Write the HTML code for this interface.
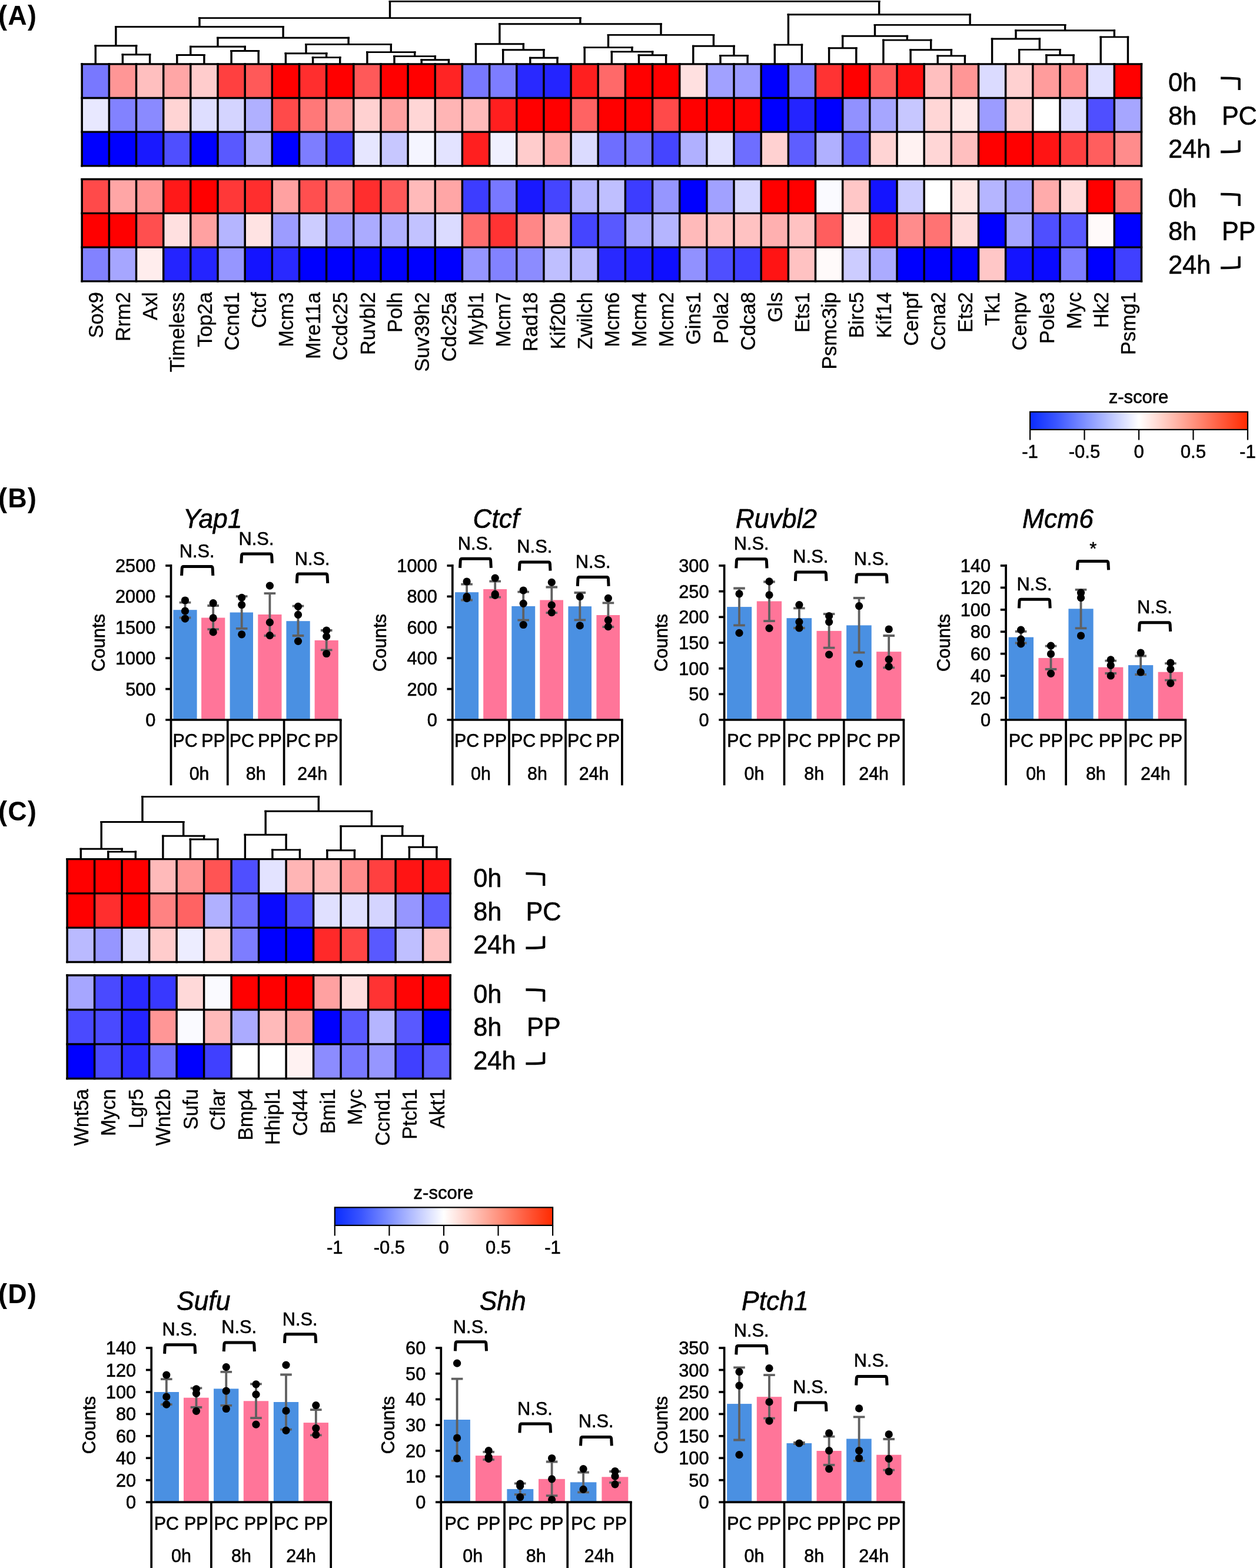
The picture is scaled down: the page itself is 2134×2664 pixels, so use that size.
<!DOCTYPE html>
<html lang="en"><head><meta charset="utf-8"><title>Figure</title>
<style>
html,body{margin:0;padding:0;background:#fff}
body{width:2134px;height:2664px;overflow:hidden}
svg{display:block;font-family:"Liberation Sans",Arial,Helvetica,sans-serif}
svg text{fill:#000;stroke:#000;stroke-width:.6px;stroke-linejoin:round}
svg .pl text{stroke-width:.15px}
svg .gl text{stroke-width:.35px}
</style></head>
<body>

<svg width="2134" height="2664" viewBox="0 0 2134 2664">

<rect width="2134" height="2664" fill="#fff"/>

<g class="pl" font-size="44.4" font-weight="bold" letter-spacing="1.4"><text transform="translate(-2.7 41.7) scale(1 1.06)">(A)</text><text transform="translate(-2.7 861.9) scale(1 1.06)">(B)</text><text transform="translate(-2.7 1393.6) scale(1 1.06)">(C)</text><text transform="translate(-2.7 2213.9) scale(1 1.06)">(D)</text></g>
<g shape-rendering="crispEdges"><rect x="139.2" y="108.8" width="46.7" height="58.2" fill="#7878ff"/><rect x="185.4" y="108.8" width="46.7" height="58.2" fill="#ff9696"/><rect x="231.5" y="108.8" width="46.7" height="58.2" fill="#ffbfbf"/><rect x="277.7" y="108.8" width="46.7" height="58.2" fill="#ffa6a6"/><rect x="323.8" y="108.8" width="46.7" height="58.2" fill="#ffcccc"/><rect x="370" y="108.8" width="46.7" height="58.2" fill="#ff4040"/><rect x="416.2" y="108.8" width="46.7" height="58.2" fill="#ff5959"/><rect x="462.3" y="108.8" width="46.7" height="58.2" fill="#ff0000"/><rect x="508.5" y="108.8" width="46.7" height="58.2" fill="#ff2e2e"/><rect x="554.6" y="108.8" width="46.7" height="58.2" fill="#ff0000"/><rect x="600.8" y="108.8" width="46.7" height="58.2" fill="#ff5959"/><rect x="647" y="108.8" width="46.7" height="58.2" fill="#ff0000"/><rect x="693.1" y="108.8" width="46.7" height="58.2" fill="#ff0000"/><rect x="739.3" y="108.8" width="46.7" height="58.2" fill="#ff2424"/><rect x="785.4" y="108.8" width="46.7" height="58.2" fill="#7878ff"/><rect x="831.6" y="108.8" width="46.7" height="58.2" fill="#7d7dff"/><rect x="877.8" y="108.8" width="46.7" height="58.2" fill="#2929ff"/><rect x="923.9" y="108.8" width="46.7" height="58.2" fill="#2424ff"/><rect x="970.1" y="108.8" width="46.7" height="58.2" fill="#ff1f1f"/><rect x="1016.2" y="108.8" width="46.7" height="58.2" fill="#ff6969"/><rect x="1062.4" y="108.8" width="46.7" height="58.2" fill="#ff0000"/><rect x="1108.6" y="108.8" width="46.7" height="58.2" fill="#ff0000"/><rect x="1154.7" y="108.8" width="46.7" height="58.2" fill="#ffe0e0"/><rect x="1200.9" y="108.8" width="46.7" height="58.2" fill="#a1a1ff"/><rect x="1247" y="108.8" width="46.7" height="58.2" fill="#9c9cff"/><rect x="1293.2" y="108.8" width="46.7" height="58.2" fill="#0000ff"/><rect x="1339.4" y="108.8" width="46.7" height="58.2" fill="#7d7dff"/><rect x="1385.5" y="108.8" width="46.7" height="58.2" fill="#ff3333"/><rect x="1431.7" y="108.8" width="46.7" height="58.2" fill="#ff0000"/><rect x="1477.8" y="108.8" width="46.7" height="58.2" fill="#ff5e5e"/><rect x="1524" y="108.8" width="46.7" height="58.2" fill="#ff0f0f"/><rect x="1570.2" y="108.8" width="46.7" height="58.2" fill="#ffbfbf"/><rect x="1616.3" y="108.8" width="46.7" height="58.2" fill="#ff9696"/><rect x="1662.5" y="108.8" width="46.7" height="58.2" fill="#dbdbff"/><rect x="1708.6" y="108.8" width="46.7" height="58.2" fill="#ffd1d1"/><rect x="1754.8" y="108.8" width="46.7" height="58.2" fill="#ff9c9c"/><rect x="1801" y="108.8" width="46.7" height="58.2" fill="#ff8c8c"/><rect x="1847.1" y="108.8" width="46.7" height="58.2" fill="#e0e0ff"/><rect x="1893.3" y="108.8" width="46.7" height="58.2" fill="#ff0000"/><rect x="139.2" y="166.5" width="46.7" height="58.2" fill="#e8e8ff"/><rect x="185.4" y="166.5" width="46.7" height="58.2" fill="#8282ff"/><rect x="231.5" y="166.5" width="46.7" height="58.2" fill="#8a8aff"/><rect x="277.7" y="166.5" width="46.7" height="58.2" fill="#ffd4d4"/><rect x="323.8" y="166.5" width="46.7" height="58.2" fill="#dedeff"/><rect x="370" y="166.5" width="46.7" height="58.2" fill="#d4d4ff"/><rect x="416.2" y="166.5" width="46.7" height="58.2" fill="#b0b0ff"/><rect x="462.3" y="166.5" width="46.7" height="58.2" fill="#ff4a4a"/><rect x="508.5" y="166.5" width="46.7" height="58.2" fill="#ff7878"/><rect x="554.6" y="166.5" width="46.7" height="58.2" fill="#ff9c9c"/><rect x="600.8" y="166.5" width="46.7" height="58.2" fill="#ffd1d1"/><rect x="647" y="166.5" width="46.7" height="58.2" fill="#ffa1a1"/><rect x="693.1" y="166.5" width="46.7" height="58.2" fill="#ffd6d6"/><rect x="739.3" y="166.5" width="46.7" height="58.2" fill="#ffb5b5"/><rect x="785.4" y="166.5" width="46.7" height="58.2" fill="#ffbaba"/><rect x="831.6" y="166.5" width="46.7" height="58.2" fill="#ff1f1f"/><rect x="877.8" y="166.5" width="46.7" height="58.2" fill="#ff0000"/><rect x="923.9" y="166.5" width="46.7" height="58.2" fill="#ff0000"/><rect x="970.1" y="166.5" width="46.7" height="58.2" fill="#ff6363"/><rect x="1016.2" y="166.5" width="46.7" height="58.2" fill="#ff0000"/><rect x="1062.4" y="166.5" width="46.7" height="58.2" fill="#ff0000"/><rect x="1108.6" y="166.5" width="46.7" height="58.2" fill="#ff4a4a"/><rect x="1154.7" y="166.5" width="46.7" height="58.2" fill="#ff0000"/><rect x="1200.9" y="166.5" width="46.7" height="58.2" fill="#ff0000"/><rect x="1247" y="166.5" width="46.7" height="58.2" fill="#ff0505"/><rect x="1293.2" y="166.5" width="46.7" height="58.2" fill="#0000ff"/><rect x="1339.4" y="166.5" width="46.7" height="58.2" fill="#2424ff"/><rect x="1385.5" y="166.5" width="46.7" height="58.2" fill="#0000ff"/><rect x="1431.7" y="166.5" width="46.7" height="58.2" fill="#9191ff"/><rect x="1477.8" y="166.5" width="46.7" height="58.2" fill="#a6a6ff"/><rect x="1524" y="166.5" width="46.7" height="58.2" fill="#c7c7ff"/><rect x="1570.2" y="166.5" width="46.7" height="58.2" fill="#ffd6d6"/><rect x="1616.3" y="166.5" width="46.7" height="58.2" fill="#ffe8e8"/><rect x="1662.5" y="166.5" width="46.7" height="58.2" fill="#9c9cff"/><rect x="1708.6" y="166.5" width="46.7" height="58.2" fill="#ffd1d1"/><rect x="1754.8" y="166.5" width="46.7" height="58.2" fill="#ffffff"/><rect x="1801" y="166.5" width="46.7" height="58.2" fill="#dedeff"/><rect x="1847.1" y="166.5" width="46.7" height="58.2" fill="#4f4fff"/><rect x="1893.3" y="166.5" width="46.7" height="58.2" fill="#a6a6ff"/><rect x="139.2" y="224.2" width="46.7" height="58.2" fill="#0000ff"/><rect x="185.4" y="224.2" width="46.7" height="58.2" fill="#0000ff"/><rect x="231.5" y="224.2" width="46.7" height="58.2" fill="#1919ff"/><rect x="277.7" y="224.2" width="46.7" height="58.2" fill="#4f4fff"/><rect x="323.8" y="224.2" width="46.7" height="58.2" fill="#0000ff"/><rect x="370" y="224.2" width="46.7" height="58.2" fill="#5959ff"/><rect x="416.2" y="224.2" width="46.7" height="58.2" fill="#ababff"/><rect x="462.3" y="224.2" width="46.7" height="58.2" fill="#0000ff"/><rect x="508.5" y="224.2" width="46.7" height="58.2" fill="#7d7dff"/><rect x="554.6" y="224.2" width="46.7" height="58.2" fill="#4545ff"/><rect x="600.8" y="224.2" width="46.7" height="58.2" fill="#e6e6ff"/><rect x="647" y="224.2" width="46.7" height="58.2" fill="#c7c7ff"/><rect x="693.1" y="224.2" width="46.7" height="58.2" fill="#f5f5ff"/><rect x="739.3" y="224.2" width="46.7" height="58.2" fill="#e3e3ff"/><rect x="785.4" y="224.2" width="46.7" height="58.2" fill="#ff1f1f"/><rect x="831.6" y="224.2" width="46.7" height="58.2" fill="#f0f0ff"/><rect x="877.8" y="224.2" width="46.7" height="58.2" fill="#ffcccc"/><rect x="923.9" y="224.2" width="46.7" height="58.2" fill="#ffabab"/><rect x="970.1" y="224.2" width="46.7" height="58.2" fill="#dbdbff"/><rect x="1016.2" y="224.2" width="46.7" height="58.2" fill="#6e6eff"/><rect x="1062.4" y="224.2" width="46.7" height="58.2" fill="#7373ff"/><rect x="1108.6" y="224.2" width="46.7" height="58.2" fill="#4545ff"/><rect x="1154.7" y="224.2" width="46.7" height="58.2" fill="#b0b0ff"/><rect x="1200.9" y="224.2" width="46.7" height="58.2" fill="#e0e0ff"/><rect x="1247" y="224.2" width="46.7" height="58.2" fill="#6e6eff"/><rect x="1293.2" y="224.2" width="46.7" height="58.2" fill="#ffd1d1"/><rect x="1339.4" y="224.2" width="46.7" height="58.2" fill="#5e5eff"/><rect x="1385.5" y="224.2" width="46.7" height="58.2" fill="#b0b0ff"/><rect x="1431.7" y="224.2" width="46.7" height="58.2" fill="#6363ff"/><rect x="1477.8" y="224.2" width="46.7" height="58.2" fill="#ffd4d4"/><rect x="1524" y="224.2" width="46.7" height="58.2" fill="#fff2f2"/><rect x="1570.2" y="224.2" width="46.7" height="58.2" fill="#ffd6d6"/><rect x="1616.3" y="224.2" width="46.7" height="58.2" fill="#ffbfbf"/><rect x="1662.5" y="224.2" width="46.7" height="58.2" fill="#ff0000"/><rect x="1708.6" y="224.2" width="46.7" height="58.2" fill="#ff0000"/><rect x="1754.8" y="224.2" width="46.7" height="58.2" fill="#ff1414"/><rect x="1801" y="224.2" width="46.7" height="58.2" fill="#ff4040"/><rect x="1847.1" y="224.2" width="46.7" height="58.2" fill="#ff5e5e"/><rect x="1893.3" y="224.2" width="46.7" height="58.2" fill="#ff8c8c"/></g><path fill="none" stroke="#000" stroke-width="3.5" d="M139.2 107.1V283.6M185.4 107.1V283.6M231.5 107.1V283.6M277.7 107.1V283.6M323.8 107.1V283.6M370 107.1V283.6M416.2 107.1V283.6M462.3 107.1V283.6M508.5 107.1V283.6M554.6 107.1V283.6M600.8 107.1V283.6M647 107.1V283.6M693.1 107.1V283.6M739.3 107.1V283.6M785.4 107.1V283.6M831.6 107.1V283.6M877.8 107.1V283.6M923.9 107.1V283.6M970.1 107.1V283.6M1016.2 107.1V283.6M1062.4 107.1V283.6M1108.6 107.1V283.6M1154.7 107.1V283.6M1200.9 107.1V283.6M1247 107.1V283.6M1293.2 107.1V283.6M1339.4 107.1V283.6M1385.5 107.1V283.6M1431.7 107.1V283.6M1477.8 107.1V283.6M1524 107.1V283.6M1570.2 107.1V283.6M1616.3 107.1V283.6M1662.5 107.1V283.6M1708.6 107.1V283.6M1754.8 107.1V283.6M1801 107.1V283.6M1847.1 107.1V283.6M1893.3 107.1V283.6M1939.4 107.1V283.6"/><path fill="none" stroke="#000" stroke-width="3.3" d="M137.4 108.8H1941.2M137.4 166.5H1941.2M137.4 224.2H1941.2M137.4 281.9H1941.2"/>
<g shape-rendering="crispEdges"><rect x="139.2" y="304.5" width="46.7" height="58.3" fill="#ff4a4a"/><rect x="185.4" y="304.5" width="46.7" height="58.3" fill="#ffa6a6"/><rect x="231.5" y="304.5" width="46.7" height="58.3" fill="#ff9696"/><rect x="277.7" y="304.5" width="46.7" height="58.3" fill="#ff1919"/><rect x="323.8" y="304.5" width="46.7" height="58.3" fill="#ff0000"/><rect x="370" y="304.5" width="46.7" height="58.3" fill="#ff3838"/><rect x="416.2" y="304.5" width="46.7" height="58.3" fill="#ff2e2e"/><rect x="462.3" y="304.5" width="46.7" height="58.3" fill="#ffa1a1"/><rect x="508.5" y="304.5" width="46.7" height="58.3" fill="#ff4f4f"/><rect x="554.6" y="304.5" width="46.7" height="58.3" fill="#ff7373"/><rect x="600.8" y="304.5" width="46.7" height="58.3" fill="#ff2e2e"/><rect x="647" y="304.5" width="46.7" height="58.3" fill="#ff5959"/><rect x="693.1" y="304.5" width="46.7" height="58.3" fill="#ffbaba"/><rect x="739.3" y="304.5" width="46.7" height="58.3" fill="#ffa6a6"/><rect x="785.4" y="304.5" width="46.7" height="58.3" fill="#3d3dff"/><rect x="831.6" y="304.5" width="46.7" height="58.3" fill="#7878ff"/><rect x="877.8" y="304.5" width="46.7" height="58.3" fill="#1919ff"/><rect x="923.9" y="304.5" width="46.7" height="58.3" fill="#4545ff"/><rect x="970.1" y="304.5" width="46.7" height="58.3" fill="#b5b5ff"/><rect x="1016.2" y="304.5" width="46.7" height="58.3" fill="#bfbfff"/><rect x="1062.4" y="304.5" width="46.7" height="58.3" fill="#3d3dff"/><rect x="1108.6" y="304.5" width="46.7" height="58.3" fill="#9696ff"/><rect x="1154.7" y="304.5" width="46.7" height="58.3" fill="#0000ff"/><rect x="1200.9" y="304.5" width="46.7" height="58.3" fill="#a1a1ff"/><rect x="1247" y="304.5" width="46.7" height="58.3" fill="#d6d6ff"/><rect x="1293.2" y="304.5" width="46.7" height="58.3" fill="#ff0000"/><rect x="1339.4" y="304.5" width="46.7" height="58.3" fill="#ff0000"/><rect x="1385.5" y="304.5" width="46.7" height="58.3" fill="#fafaff"/><rect x="1431.7" y="304.5" width="46.7" height="58.3" fill="#ffc7c7"/><rect x="1477.8" y="304.5" width="46.7" height="58.3" fill="#1414ff"/><rect x="1524" y="304.5" width="46.7" height="58.3" fill="#ccccff"/><rect x="1570.2" y="304.5" width="46.7" height="58.3" fill="#ffffff"/><rect x="1616.3" y="304.5" width="46.7" height="58.3" fill="#ffe6e6"/><rect x="1662.5" y="304.5" width="46.7" height="58.3" fill="#b5b5ff"/><rect x="1708.6" y="304.5" width="46.7" height="58.3" fill="#a1a1ff"/><rect x="1754.8" y="304.5" width="46.7" height="58.3" fill="#ffabab"/><rect x="1801" y="304.5" width="46.7" height="58.3" fill="#ffdbdb"/><rect x="1847.1" y="304.5" width="46.7" height="58.3" fill="#ff0000"/><rect x="1893.3" y="304.5" width="46.7" height="58.3" fill="#ff7878"/><rect x="139.2" y="362.3" width="46.7" height="58.3" fill="#ff0000"/><rect x="185.4" y="362.3" width="46.7" height="58.3" fill="#ff0000"/><rect x="231.5" y="362.3" width="46.7" height="58.3" fill="#ff4f4f"/><rect x="277.7" y="362.3" width="46.7" height="58.3" fill="#ffe0e0"/><rect x="323.8" y="362.3" width="46.7" height="58.3" fill="#ffa1a1"/><rect x="370" y="362.3" width="46.7" height="58.3" fill="#b5b5ff"/><rect x="416.2" y="362.3" width="46.7" height="58.3" fill="#ffe3e3"/><rect x="462.3" y="362.3" width="46.7" height="58.3" fill="#9c9cff"/><rect x="508.5" y="362.3" width="46.7" height="58.3" fill="#ccccff"/><rect x="554.6" y="362.3" width="46.7" height="58.3" fill="#a1a1ff"/><rect x="600.8" y="362.3" width="46.7" height="58.3" fill="#ababff"/><rect x="647" y="362.3" width="46.7" height="58.3" fill="#b0b0ff"/><rect x="693.1" y="362.3" width="46.7" height="58.3" fill="#c2c2ff"/><rect x="739.3" y="362.3" width="46.7" height="58.3" fill="#dbdbff"/><rect x="785.4" y="362.3" width="46.7" height="58.3" fill="#ff6e6e"/><rect x="831.6" y="362.3" width="46.7" height="58.3" fill="#ff3333"/><rect x="877.8" y="362.3" width="46.7" height="58.3" fill="#ff8787"/><rect x="923.9" y="362.3" width="46.7" height="58.3" fill="#ffb5b5"/><rect x="970.1" y="362.3" width="46.7" height="58.3" fill="#4545ff"/><rect x="1016.2" y="362.3" width="46.7" height="58.3" fill="#5959ff"/><rect x="1062.4" y="362.3" width="46.7" height="58.3" fill="#a6a6ff"/><rect x="1108.6" y="362.3" width="46.7" height="58.3" fill="#b5b5ff"/><rect x="1154.7" y="362.3" width="46.7" height="58.3" fill="#ffbaba"/><rect x="1200.9" y="362.3" width="46.7" height="58.3" fill="#ffc2c2"/><rect x="1247" y="362.3" width="46.7" height="58.3" fill="#ffc2c2"/><rect x="1293.2" y="362.3" width="46.7" height="58.3" fill="#ffb0b0"/><rect x="1339.4" y="362.3" width="46.7" height="58.3" fill="#ffc2c2"/><rect x="1385.5" y="362.3" width="46.7" height="58.3" fill="#ff5e5e"/><rect x="1431.7" y="362.3" width="46.7" height="58.3" fill="#fff2f2"/><rect x="1477.8" y="362.3" width="46.7" height="58.3" fill="#ff3333"/><rect x="1524" y="362.3" width="46.7" height="58.3" fill="#ff8c8c"/><rect x="1570.2" y="362.3" width="46.7" height="58.3" fill="#ff7373"/><rect x="1616.3" y="362.3" width="46.7" height="58.3" fill="#ffdbdb"/><rect x="1662.5" y="362.3" width="46.7" height="58.3" fill="#0000ff"/><rect x="1708.6" y="362.3" width="46.7" height="58.3" fill="#a6a6ff"/><rect x="1754.8" y="362.3" width="46.7" height="58.3" fill="#4f4fff"/><rect x="1801" y="362.3" width="46.7" height="58.3" fill="#5959ff"/><rect x="1847.1" y="362.3" width="46.7" height="58.3" fill="#fffafa"/><rect x="1893.3" y="362.3" width="46.7" height="58.3" fill="#0000ff"/><rect x="139.2" y="420.1" width="46.7" height="58.3" fill="#8282ff"/><rect x="185.4" y="420.1" width="46.7" height="58.3" fill="#a6a6ff"/><rect x="231.5" y="420.1" width="46.7" height="58.3" fill="#ffeded"/><rect x="277.7" y="420.1" width="46.7" height="58.3" fill="#2424ff"/><rect x="323.8" y="420.1" width="46.7" height="58.3" fill="#2424ff"/><rect x="370" y="420.1" width="46.7" height="58.3" fill="#9696ff"/><rect x="416.2" y="420.1" width="46.7" height="58.3" fill="#1414ff"/><rect x="462.3" y="420.1" width="46.7" height="58.3" fill="#2929ff"/><rect x="508.5" y="420.1" width="46.7" height="58.3" fill="#0000ff"/><rect x="554.6" y="420.1" width="46.7" height="58.3" fill="#0000ff"/><rect x="600.8" y="420.1" width="46.7" height="58.3" fill="#0505ff"/><rect x="647" y="420.1" width="46.7" height="58.3" fill="#0000ff"/><rect x="693.1" y="420.1" width="46.7" height="58.3" fill="#0000ff"/><rect x="739.3" y="420.1" width="46.7" height="58.3" fill="#0000ff"/><rect x="785.4" y="420.1" width="46.7" height="58.3" fill="#9696ff"/><rect x="831.6" y="420.1" width="46.7" height="58.3" fill="#8282ff"/><rect x="877.8" y="420.1" width="46.7" height="58.3" fill="#8c8cff"/><rect x="923.9" y="420.1" width="46.7" height="58.3" fill="#bfbfff"/><rect x="970.1" y="420.1" width="46.7" height="58.3" fill="#babaff"/><rect x="1016.2" y="420.1" width="46.7" height="58.3" fill="#2929ff"/><rect x="1062.4" y="420.1" width="46.7" height="58.3" fill="#1f1fff"/><rect x="1108.6" y="420.1" width="46.7" height="58.3" fill="#0f0fff"/><rect x="1154.7" y="420.1" width="46.7" height="58.3" fill="#9191ff"/><rect x="1200.9" y="420.1" width="46.7" height="58.3" fill="#4f4fff"/><rect x="1247" y="420.1" width="46.7" height="58.3" fill="#4040ff"/><rect x="1293.2" y="420.1" width="46.7" height="58.3" fill="#ff1414"/><rect x="1339.4" y="420.1" width="46.7" height="58.3" fill="#ffc2c2"/><rect x="1385.5" y="420.1" width="46.7" height="58.3" fill="#fffafa"/><rect x="1431.7" y="420.1" width="46.7" height="58.3" fill="#ccccff"/><rect x="1477.8" y="420.1" width="46.7" height="58.3" fill="#ababff"/><rect x="1524" y="420.1" width="46.7" height="58.3" fill="#0000ff"/><rect x="1570.2" y="420.1" width="46.7" height="58.3" fill="#0000ff"/><rect x="1616.3" y="420.1" width="46.7" height="58.3" fill="#0000ff"/><rect x="1662.5" y="420.1" width="46.7" height="58.3" fill="#ffc7c7"/><rect x="1708.6" y="420.1" width="46.7" height="58.3" fill="#1414ff"/><rect x="1754.8" y="420.1" width="46.7" height="58.3" fill="#0a0aff"/><rect x="1801" y="420.1" width="46.7" height="58.3" fill="#7d7dff"/><rect x="1847.1" y="420.1" width="46.7" height="58.3" fill="#0000ff"/><rect x="1893.3" y="420.1" width="46.7" height="58.3" fill="#4040ff"/></g><path fill="none" stroke="#000" stroke-width="3.5" d="M139.2 302.9V479.5M185.4 302.9V479.5M231.5 302.9V479.5M277.7 302.9V479.5M323.8 302.9V479.5M370 302.9V479.5M416.2 302.9V479.5M462.3 302.9V479.5M508.5 302.9V479.5M554.6 302.9V479.5M600.8 302.9V479.5M647 302.9V479.5M693.1 302.9V479.5M739.3 302.9V479.5M785.4 302.9V479.5M831.6 302.9V479.5M877.8 302.9V479.5M923.9 302.9V479.5M970.1 302.9V479.5M1016.2 302.9V479.5M1062.4 302.9V479.5M1108.6 302.9V479.5M1154.7 302.9V479.5M1200.9 302.9V479.5M1247 302.9V479.5M1293.2 302.9V479.5M1339.4 302.9V479.5M1385.5 302.9V479.5M1431.7 302.9V479.5M1477.8 302.9V479.5M1524 302.9V479.5M1570.2 302.9V479.5M1616.3 302.9V479.5M1662.5 302.9V479.5M1708.6 302.9V479.5M1754.8 302.9V479.5M1801 302.9V479.5M1847.1 302.9V479.5M1893.3 302.9V479.5M1939.4 302.9V479.5"/><path fill="none" stroke="#000" stroke-width="3.3" d="M137.4 304.5H1941.2M137.4 362.3H1941.2M137.4 420.1H1941.2M137.4 477.9H1941.2"/>
<g fill="none" stroke="#000"><path stroke-width="3.4" d="M208.4 108V91.3M254.6 108V91.3M162.3 108V76.3M231.5 92.8V76.3M300.8 108V92M346.9 108V92M393.1 108V85M439.2 108V85M323.8 93.5V77.7M416.2 86.5V77.7M531.6 108V96.1M577.7 108V96.1M485.4 108V89.2M554.6 97.6V89.2M716.2 108V100.3M762.4 108V100.3M670 108V94.1M739.3 101.8V94.1M623.9 108V87.1M704.7 95.6V87.1M520 90.7V73.9M664.3 88.6V73.9M370 79.2V62.8M592.1 75.4V62.8M196.9 77.8V44M481.1 64.3V44M900.8 108V96.8M947 108V96.8M854.7 108V83.3M923.9 98.3V83.3M808.5 108V73.2M889.3 84.8V73.2M1085.5 108V92.3M1131.6 108V92.3M1039.3 108V86.4M1108.6 93.8V86.4M993.2 108V79.1M1073.9 87.9V79.1M1224 108V93M1270.1 108V93M1177.8 108V76.7M1247 94.5V76.7M1033.5 80.6V57.9M1212.4 78.2V57.9M848.9 74.7V39.2M1123 59.4V39.2M339 45.5V29.1M985.9 40.7V29.1M1316.3 108V74.6M1362.4 108V74.6M1408.6 108V80.2M1454.8 108V80.2M1593.2 108V93.4M1639.4 108V93.4M1547.1 108V83.3M1616.3 94.9V83.3M1500.9 108V66.6M1581.7 84.8V66.6M1431.7 81.7V59.7M1541.3 68.1V59.7M1777.9 108V92.3M1824 108V92.3M1731.7 108V82.9M1801 93.8V82.9M1685.6 108V64.5M1766.3 84.4V64.5M1870.2 108V61.4M1916.4 108V61.4M1726 66V50.3M1893.3 62.9V50.3M1486.5 61.2V40.9M1809.6 51.8V40.9M1339.4 76.1V23.2M1648.1 42.4V23.2M662.5 30.6V0.9M1493.7 24.7V0.9"/><path stroke-width="2.9" d="M206.6 92.8H256.4M160.4 77.8H233.4M298.9 93.5H348.8M391.2 86.5H441.1M322 79.2H418M529.7 97.6H579.6M483.5 90.7H556.5M714.4 101.8H764.2M668.2 95.6H741.1M622 88.6H706.5M518.2 75.4H666.1M368.1 64.3H594M195 45.5H482.9M899 98.3H948.9M852.8 84.8H925.8M806.7 74.7H891.1M1083.6 93.8H1133.5M1037.5 87.9H1110.4M991.3 80.6H1075.8M1222.1 94.5H1272M1176 78.2H1248.9M1031.7 59.4H1214.3M847.1 40.7H1124.8M337.1 30.6H987.8M1314.4 76.1H1364.3M1406.8 81.7H1456.6M1591.4 94.9H1641.2M1545.2 84.8H1618.2M1499.1 68.1H1583.5M1429.8 61.2H1543.2M1776 93.8H1825.9M1729.9 84.4H1802.8M1683.7 66H1768.2M1868.3 62.9H1918.2M1724.1 51.8H1895.1M1484.6 42.4H1811.5M1337.5 24.7H1649.9M660.6 2.4H1495.6"/></g>
<g class="gl" font-size="34.3" text-anchor="end"><text transform="translate(174.9 496.3) rotate(-90) scale(1 1.02)">Sox9</text><text transform="translate(221 496.3) rotate(-90) scale(1 1.02)">Rrm2</text><text transform="translate(267.2 496.3) rotate(-90) scale(1 1.02)">Axl</text><text transform="translate(313.4 496.3) rotate(-90) scale(1 1.02)">Timeless</text><text transform="translate(359.5 496.3) rotate(-90) scale(1 1.02)">Top2a</text><text transform="translate(405.7 496.3) rotate(-90) scale(1 1.02)">Ccnd1</text><text transform="translate(451.8 496.3) rotate(-90) scale(1 1.02)">Ctcf</text><text transform="translate(498 496.3) rotate(-90) scale(1 1.02)">Mcm3</text><text transform="translate(544.2 496.3) rotate(-90) scale(1 1.02)">Mre11a</text><text transform="translate(590.3 496.3) rotate(-90) scale(1 1.02)">Ccdc25</text><text transform="translate(636.5 496.3) rotate(-90) scale(1 1.02)">Ruvbl2</text><text transform="translate(682.6 496.3) rotate(-90) scale(1 1.02)">Polh</text><text transform="translate(728.8 496.3) rotate(-90) scale(1 1.02)">Suv39h2</text><text transform="translate(775 496.3) rotate(-90) scale(1 1.02)">Cdc25a</text><text transform="translate(821.1 496.3) rotate(-90) scale(1 1.02)">Mybl1</text><text transform="translate(867.3 496.3) rotate(-90) scale(1 1.02)">Mcm7</text><text transform="translate(913.4 496.3) rotate(-90) scale(1 1.02)">Rad18</text><text transform="translate(959.6 496.3) rotate(-90) scale(1 1.02)">Kif20b</text><text transform="translate(1005.8 496.3) rotate(-90) scale(1 1.02)">Zwilch</text><text transform="translate(1051.9 496.3) rotate(-90) scale(1 1.02)">Mcm6</text><text transform="translate(1098.1 496.3) rotate(-90) scale(1 1.02)">Mcm4</text><text transform="translate(1144.2 496.3) rotate(-90) scale(1 1.02)">Mcm2</text><text transform="translate(1190.4 496.3) rotate(-90) scale(1 1.02)">Gins1</text><text transform="translate(1236.6 496.3) rotate(-90) scale(1 1.02)">Pola2</text><text transform="translate(1282.7 496.3) rotate(-90) scale(1 1.02)">Cdca8</text><text transform="translate(1328.9 496.3) rotate(-90) scale(1 1.02)">Gls</text><text transform="translate(1375 496.3) rotate(-90) scale(1 1.02)">Ets1</text><text transform="translate(1421.2 496.3) rotate(-90) scale(1 1.02)">Psmc3ip</text><text transform="translate(1467.4 496.3) rotate(-90) scale(1 1.02)">Birc5</text><text transform="translate(1513.5 496.3) rotate(-90) scale(1 1.02)">Kif14</text><text transform="translate(1559.7 496.3) rotate(-90) scale(1 1.02)">Cenpf</text><text transform="translate(1605.8 496.3) rotate(-90) scale(1 1.02)">Ccna2</text><text transform="translate(1652 496.3) rotate(-90) scale(1 1.02)">Ets2</text><text transform="translate(1698.2 496.3) rotate(-90) scale(1 1.02)">Tk1</text><text transform="translate(1744.3 496.3) rotate(-90) scale(1 1.02)">Cenpv</text><text transform="translate(1790.5 496.3) rotate(-90) scale(1 1.02)">Pole3</text><text transform="translate(1836.6 496.3) rotate(-90) scale(1 1.02)">Myc</text><text transform="translate(1882.8 496.3) rotate(-90) scale(1 1.02)">Hk2</text><text transform="translate(1929 496.3) rotate(-90) scale(1 1.02)">Psmg1</text></g>
<g font-size="43.3"><text transform="translate(1984.9 154.9) scale(1 1.04)">0h</text><text transform="translate(1984.9 211.5) scale(1 1.04)">8h</text><text transform="translate(1984.9 267.7) scale(1 1.04)">24h</text><text transform="translate(2075.7 211.5) scale(1 1.04)">PC</text></g>
<g font-size="43.3"><text transform="translate(1984.9 352) scale(1 1.04)">0h</text><text transform="translate(1984.9 408.2) scale(1 1.04)">8h</text><text transform="translate(1984.9 464.8) scale(1 1.04)">24h</text><text transform="translate(2075.7 408.2) scale(1 1.04)">PP</text></g>
<g fill="none" stroke="#000" stroke-width="4.3" stroke-linejoin="round"><path d="M2074 132.7 Q2099.4 132.7 2105.6 134.3 V153"/><path d="M2105.6 238.4 V256.4 Q2099.4 258 2074 258"/></g>
<g fill="none" stroke="#000" stroke-width="4.3" stroke-linejoin="round"><path d="M2074 329.8 Q2099.4 329.8 2105.6 331.4 V350.1"/><path d="M2105.6 435.5 V453.5 Q2099.4 455.1 2074 455.1"/></g>
<defs><linearGradient id="cbA" x1="0" x2="1" y1="0" y2="0"><stop offset="0" stop-color="#0a2cff"/><stop offset="0.12" stop-color="#3a55ff"/><stop offset="0.5" stop-color="#ffffff"/><stop offset="0.88" stop-color="#ff5a3c"/><stop offset="1" stop-color="#ff2a00"/></linearGradient></defs>
<rect x="1750.1" y="699.7" width="369.8" height="30.2" fill="url(#cbA)" stroke="#000" stroke-width="2.2"/>
<g stroke="#000" stroke-width="2.2"><line x1="1750.1" x2="1750.1" y1="730" y2="747.5"/><line x1="1842.5" x2="1842.5" y1="730" y2="747.5"/><line x1="1935" x2="1935" y1="730" y2="747.5"/><line x1="2027.4" x2="2027.4" y1="730" y2="747.5"/><line x1="2119.9" x2="2119.9" y1="730" y2="747.5"/></g>
<g font-size="31" text-anchor="middle"><text x="1934.5" y="685.2">z-score</text><text x="1750.1" y="777.5">-1</text><text x="1842.5" y="777.5">-0.5</text><text x="1935" y="777.5">0</text><text x="2027.4" y="777.5">0.5</text><text x="2119.9" y="777.5">-1</text></g>
<rect x="294.4" y="1036.2" width="40.2" height="186.8" fill="#4a90e2"/><rect x="342.1" y="1049.5" width="40.2" height="173.5" fill="#ff7599"/><rect x="390.6" y="1040.5" width="39.4" height="182.5" fill="#4a90e2"/><rect x="438.3" y="1044" width="40.2" height="179" fill="#ff7599"/><rect x="486.4" y="1055.2" width="40.3" height="167.8" fill="#4a90e2"/><rect x="534.6" y="1087.9" width="40.2" height="135.1" fill="#ff7599"/>
<g stroke="#000" stroke-width="3.7" fill="none"><path d="M290.5 959.1V1334.3"/><path d="M386.8 1223V1334.3"/><path d="M482.6 1223V1334.3"/><path d="M578.8 1223V1334.3"/><path d="M281.2 1223H580.6"/><path d="M281.2 961H290.5"/><path d="M281.2 1013.4H290.5"/><path d="M281.2 1065.8H290.5"/><path d="M281.2 1118.2H290.5"/><path d="M281.2 1170.6H290.5"/></g>
<g stroke="#606060" stroke-width="3.8" fill="none"><path d="M314.5 1023.6V1049.5M304.7 1023.6H324.3M304.7 1049.5H324.3"/><path d="M362.2 1029V1069.2M352.4 1029H372M352.4 1069.2H372"/><path d="M410.7 1013.2V1067.8M400.9 1013.2H420.5M400.9 1067.8H420.5"/><path d="M458.4 1008.2V1080M448.6 1008.2H468.2M448.6 1080H468.2"/><path d="M506.5 1029.7V1080M496.7 1029.7H516.3M496.7 1080H516.3"/><path d="M554.7 1071V1104.4M544.9 1071H564.5M544.9 1104.4H564.5"/></g>
<g fill="#000"><circle cx="314.5" cy="1020" r="6.6"/><circle cx="314.5" cy="1038" r="6.6"/><circle cx="314.5" cy="1051.2" r="6.6"/><circle cx="362.2" cy="1024.7" r="6.6"/><circle cx="362.2" cy="1049.8" r="6.6"/><circle cx="362.2" cy="1073.9" r="6.6"/><circle cx="410.7" cy="1015.4" r="6.6"/><circle cx="410.7" cy="1027.6" r="6.6"/><circle cx="410.7" cy="1077.8" r="6.6"/><circle cx="458.4" cy="995.2" r="6.6"/><circle cx="458.4" cy="1057.4" r="6.6"/><circle cx="458.4" cy="1079.6" r="6.6"/><circle cx="506.5" cy="1030.4" r="6.6"/><circle cx="506.5" cy="1044.4" r="6.6"/><circle cx="506.5" cy="1089.3" r="6.6"/><circle cx="554.7" cy="1071" r="6.6"/><circle cx="554.7" cy="1081.4" r="6.6"/><circle cx="554.7" cy="1110.5" r="6.6"/></g>
<g stroke="#000" stroke-width="5" fill="none"><path d="M308.6 978L309.2 966Q309.3 962.6 311.9 962.6H358.5Q361.1 962.6 361.2 966L361.8 978"/><path d="M409.9 956.8L410.5 944.4Q410.6 941 413.2 941H459Q461.6 941 461.7 944.4L462.3 956.8"/><path d="M504.3 990.9L504.9 978.5Q505 975.1 507.6 975.1H553.4Q556 975.1 556.1 978.5L556.7 990.9"/></g>
<g font-size="30.8" text-anchor="middle"><text transform="translate(334.6 947.2) scale(1 1.03)">N.S.</text><text transform="translate(435.5 926.4) scale(1 1.03)">N.S.</text><text transform="translate(530.6 959.8) scale(1 1.03)">N.S.</text></g><g font-size="30.4" text-anchor="middle"><text transform="translate(314.7 1269.3) scale(1 1.03)">PC</text><text transform="translate(362.5 1269.3) scale(1 1.03)">PP</text><text transform="translate(338.6 1325.1) scale(1 1.03)">0h</text><text transform="translate(410.9 1269.3) scale(1 1.03)">PC</text><text transform="translate(458.4 1269.3) scale(1 1.03)">PP</text><text transform="translate(434.7 1325.1) scale(1 1.03)">8h</text><text transform="translate(506.8 1269.3) scale(1 1.03)">PC</text><text transform="translate(554.5 1269.3) scale(1 1.03)">PP</text><text transform="translate(530.7 1325.1) scale(1 1.03)">24h</text></g>
<g font-size="30.8" text-anchor="end"><text transform="translate(264.5 972) scale(1 1.03)">2500</text><text transform="translate(264.5 1024.4) scale(1 1.03)">2000</text><text transform="translate(264.5 1076.8) scale(1 1.03)">1500</text><text transform="translate(264.5 1129.2) scale(1 1.03)">1000</text><text transform="translate(264.5 1181.6) scale(1 1.03)">500</text><text transform="translate(264.5 1234) scale(1 1.03)">0</text></g>
<g font-size="31" text-anchor="middle"><text transform="translate(177.7 1092) rotate(-90) scale(1 1.03)">Counts</text></g>
<g font-size="44.4" font-style="italic" text-anchor="middle"><text transform="translate(361.3 897.2) scale(1 1.03)">Yap1</text></g>
<rect x="773.1" y="1006.2" width="40" height="216.8" fill="#4a90e2"/><rect x="821.2" y="1001" width="39.9" height="222" fill="#ff7599"/><rect x="869.3" y="1029.9" width="39.9" height="193.1" fill="#4a90e2"/><rect x="917.3" y="1019.5" width="39.7" height="203.5" fill="#ff7599"/><rect x="965.4" y="1030.2" width="39.6" height="192.8" fill="#4a90e2"/><rect x="1013.4" y="1045" width="39.7" height="178" fill="#ff7599"/>
<g stroke="#000" stroke-width="3.7" fill="none"><path d="M768.8 959.1V1334.3"/><path d="M865 1223V1334.3"/><path d="M961 1223V1334.3"/><path d="M1056.9 1223V1334.3"/><path d="M759.5 1223H1058.8"/><path d="M759.5 961H768.8"/><path d="M759.5 1013.4H768.8"/><path d="M759.5 1065.8H768.8"/><path d="M759.5 1118.2H768.8"/><path d="M759.5 1170.6H768.8"/></g>
<g stroke="#606060" stroke-width="3.8" fill="none"><path d="M793.1 992.6V1019.5M783.3 992.6H802.9M783.3 1019.5H802.9"/><path d="M841.2 987.7V1014.6M831.4 987.7H851M831.4 1014.6H851"/><path d="M889.2 1005.6V1053.7M879.4 1005.6H899M879.4 1053.7H899"/><path d="M937.3 997.5V1041.2M927.5 997.5H947.1M927.5 1041.2H947.1"/><path d="M985.3 1007V1053.4M975.5 1007H995.1M975.5 1053.4H995.1"/><path d="M1033.4 1024.4V1065.2M1023.6 1024.4H1043.2M1023.6 1065.2H1043.2"/></g>
<g fill="#000"><circle cx="793.1" cy="988" r="6.6"/><circle cx="793.1" cy="1013.7" r="6.6"/><circle cx="793.1" cy="1016.6" r="6.6"/><circle cx="841.2" cy="982.2" r="6.6"/><circle cx="841.2" cy="1009.4" r="6.6"/><circle cx="841.2" cy="1011.4" r="6.6"/><circle cx="889.2" cy="1003" r="6.6"/><circle cx="889.2" cy="1025.3" r="6.6"/><circle cx="889.2" cy="1061.5" r="6.6"/><circle cx="937.3" cy="989.4" r="6.6"/><circle cx="937.3" cy="1028.2" r="6.6"/><circle cx="937.3" cy="1040.6" r="6.6"/><circle cx="985.3" cy="1013.7" r="6.6"/><circle cx="985.3" cy="1062.9" r="6.6"/><circle cx="1033.4" cy="1016.3" r="6.6"/><circle cx="1033.4" cy="1053.7" r="6.6"/><circle cx="1033.4" cy="1064.7" r="6.6"/></g>
<g stroke="#000" stroke-width="5" fill="none"><path d="M781.6 964.8L782.2 952.7Q782.3 949.3 784.9 949.3H831Q833.6 949.3 833.7 952.7L834.3 964.8"/><path d="M882.3 969.7L882.9 958.5Q883 955.1 885.6 955.1H931.7Q934.3 955.1 934.4 958.5L935 969.7"/><path d="M981.3 995.8L981.9 983.9Q982 980.5 984.6 980.5H1030.8Q1033.4 980.5 1033.5 983.9L1034.1 995.8"/></g>
<g font-size="30.8" text-anchor="middle"><text transform="translate(807.6 933.9) scale(1 1.03)">N.S.</text><text transform="translate(908.3 939.4) scale(1 1.03)">N.S.</text><text transform="translate(1007.6 964.9) scale(1 1.03)">N.S.</text></g><g font-size="30.4" text-anchor="middle"><text transform="translate(793 1269.3) scale(1 1.03)">PC</text><text transform="translate(840.7 1269.3) scale(1 1.03)">PP</text><text transform="translate(816.9 1325.1) scale(1 1.03)">0h</text><text transform="translate(889.2 1269.3) scale(1 1.03)">PC</text><text transform="translate(936.8 1269.3) scale(1 1.03)">PP</text><text transform="translate(913 1325.1) scale(1 1.03)">8h</text><text transform="translate(985.1 1269.3) scale(1 1.03)">PC</text><text transform="translate(1032.7 1269.3) scale(1 1.03)">PP</text><text transform="translate(1009 1325.1) scale(1 1.03)">24h</text></g>
<g font-size="30.8" text-anchor="end"><text transform="translate(742.8 972) scale(1 1.03)">1000</text><text transform="translate(742.8 1024.4) scale(1 1.03)">800</text><text transform="translate(742.8 1076.8) scale(1 1.03)">600</text><text transform="translate(742.8 1129.2) scale(1 1.03)">400</text><text transform="translate(742.8 1181.6) scale(1 1.03)">200</text><text transform="translate(742.8 1234) scale(1 1.03)">0</text></g>
<g font-size="31" text-anchor="middle"><text transform="translate(655.6 1092) rotate(-90) scale(1 1.03)">Counts</text></g>
<g font-size="44.4" font-style="italic" text-anchor="middle"><text transform="translate(842.9 897) scale(1 1.03)">Ctcf</text></g>
<rect x="1235.2" y="1031.1" width="42" height="191.9" fill="#4a90e2"/><rect x="1285.8" y="1021.5" width="42.3" height="201.5" fill="#ff7599"/><rect x="1336.5" y="1050.2" width="42.6" height="172.8" fill="#4a90e2"/><rect x="1387.5" y="1071.9" width="42.2" height="151.1" fill="#ff7599"/><rect x="1438.1" y="1062.4" width="42.6" height="160.6" fill="#4a90e2"/><rect x="1489.1" y="1107.2" width="42.3" height="115.8" fill="#ff7599"/>
<g stroke="#000" stroke-width="3.7" fill="none"><path d="M1230.6 959.1V1334.3"/><path d="M1332.5 1223V1334.3"/><path d="M1433.8 1223V1334.3"/><path d="M1535.4 1223V1334.3"/><path d="M1221.3 1223H1537.2"/><path d="M1221.3 961H1230.6"/><path d="M1221.3 1004.7H1230.6"/><path d="M1221.3 1048.3H1230.6"/><path d="M1221.3 1092H1230.6"/><path d="M1221.3 1135.7H1230.6"/><path d="M1221.3 1179.3H1230.6"/></g>
<g stroke="#606060" stroke-width="3.8" fill="none"><path d="M1256 999.5V1062.4M1246.2 999.5H1265.8M1246.2 1062.4H1265.8"/><path d="M1307 988.5V1055.1M1297.2 988.5H1316.8M1297.2 1055.1H1316.8"/><path d="M1357.9 1033.4V1067M1348.1 1033.4H1367.7M1348.1 1067H1367.7"/><path d="M1408.6 1043.2V1100.6M1398.8 1043.2H1418.4M1398.8 1100.6H1418.4"/><path d="M1459.6 1016V1108.7M1449.8 1016H1469.4M1449.8 1108.7H1469.4"/><path d="M1510.2 1080V1134.4M1500.4 1080H1520M1500.4 1134.4H1520"/></g>
<g fill="#000"><circle cx="1256" cy="1008.8" r="6.6"/><circle cx="1256" cy="1075.4" r="6.6"/><circle cx="1307" cy="987.9" r="6.6"/><circle cx="1307" cy="1010.8" r="6.6"/><circle cx="1307" cy="1067.3" r="6.6"/><circle cx="1357.9" cy="1027.6" r="6.6"/><circle cx="1357.9" cy="1056.6" r="6.6"/><circle cx="1357.9" cy="1067" r="6.6"/><circle cx="1408.6" cy="1046.7" r="6.6"/><circle cx="1408.6" cy="1056.6" r="6.6"/><circle cx="1408.6" cy="1112.1" r="6.6"/><circle cx="1459.6" cy="1029.6" r="6.6"/><circle cx="1459.6" cy="1127.8" r="6.6"/><circle cx="1510.2" cy="1069" r="6.6"/><circle cx="1510.2" cy="1120.3" r="6.6"/><circle cx="1510.2" cy="1132.4" r="6.6"/></g>
<g stroke="#000" stroke-width="5" fill="none"><path d="M1250.8 965.4L1251.4 953.2Q1251.5 949.8 1254.1 949.8H1299.7Q1302.3 949.8 1302.4 953.2L1303 965.4"/><path d="M1351.3 987.1L1351.9 975.3Q1352 971.9 1354.6 971.9H1400.7Q1403.3 971.9 1403.4 975.3L1404 987.1"/><path d="M1454.7 991.1L1455.3 979.3Q1455.4 975.9 1458 975.9H1503.8Q1506.4 975.9 1506.5 979.3L1507.1 991.1"/></g>
<g font-size="30.8" text-anchor="middle"><text transform="translate(1276.6 933.9) scale(1 1.03)">N.S.</text><text transform="translate(1377.3 956.2) scale(1 1.03)">N.S.</text><text transform="translate(1480.7 960) scale(1 1.03)">N.S.</text></g><g font-size="30.4" text-anchor="middle"><text transform="translate(1256.3 1269.3) scale(1 1.03)">PC</text><text transform="translate(1306.8 1269.3) scale(1 1.03)">PP</text><text transform="translate(1281.5 1325.1) scale(1 1.03)">0h</text><text transform="translate(1358 1269.3) scale(1 1.03)">PC</text><text transform="translate(1408.3 1269.3) scale(1 1.03)">PP</text><text transform="translate(1383.2 1325.1) scale(1 1.03)">8h</text><text transform="translate(1459.4 1269.3) scale(1 1.03)">PC</text><text transform="translate(1509.8 1269.3) scale(1 1.03)">PP</text><text transform="translate(1484.6 1325.1) scale(1 1.03)">24h</text></g>
<g font-size="30.8" text-anchor="end"><text transform="translate(1204.6 972) scale(1 1.03)">300</text><text transform="translate(1204.6 1015.7) scale(1 1.03)">250</text><text transform="translate(1204.6 1059.3) scale(1 1.03)">200</text><text transform="translate(1204.6 1103) scale(1 1.03)">150</text><text transform="translate(1204.6 1146.7) scale(1 1.03)">100</text><text transform="translate(1204.6 1190.3) scale(1 1.03)">50</text><text transform="translate(1204.6 1234) scale(1 1.03)">0</text></g>
<g font-size="31" text-anchor="middle"><text transform="translate(1134.1 1092) rotate(-90) scale(1 1.03)">Counts</text></g>
<g font-size="44.4" font-style="italic" text-anchor="middle"><text transform="translate(1318.9 897) scale(1 1.03)">Ruvbl2</text></g>
<rect x="1713.7" y="1082.6" width="42.3" height="140.4" fill="#4a90e2"/><rect x="1764.4" y="1117.9" width="42.6" height="105.1" fill="#ff7599"/><rect x="1815.4" y="1034.3" width="42.2" height="188.7" fill="#4a90e2"/><rect x="1866" y="1133.6" width="42.3" height="89.4" fill="#ff7599"/><rect x="1917" y="1130.1" width="42.2" height="92.9" fill="#4a90e2"/><rect x="1967.6" y="1141.7" width="42.3" height="81.3" fill="#ff7599"/>
<g stroke="#000" stroke-width="3.7" fill="none"><path d="M1709.1 959.1V1334.3"/><path d="M1811.1 1223V1334.3"/><path d="M1912.6 1223V1334.3"/><path d="M2014.3 1223V1334.3"/><path d="M1699.8 1223H2016.1"/><path d="M1699.8 961H1709.1"/><path d="M1699.8 998.4H1709.1"/><path d="M1699.8 1035.9H1709.1"/><path d="M1699.8 1073.3H1709.1"/><path d="M1699.8 1110.7H1709.1"/><path d="M1699.8 1148.1H1709.1"/><path d="M1699.8 1185.6H1709.1"/></g>
<g stroke="#606060" stroke-width="3.8" fill="none"><path d="M1734.6 1072.8V1092.5M1724.8 1072.8H1744.4M1724.8 1092.5H1744.4"/><path d="M1785.5 1097.7V1137M1775.7 1097.7H1795.3M1775.7 1137H1795.3"/><path d="M1836.5 1001.8V1067.3M1826.7 1001.8H1846.3M1826.7 1067.3H1846.3"/><path d="M1887.2 1122.6V1144M1877.4 1122.6H1897M1877.4 1144H1897"/><path d="M1938.1 1114.5V1146M1928.3 1114.5H1947.9M1928.3 1146H1947.9"/><path d="M1988.8 1127.2V1155.6M1979 1127.2H1998.6M1979 1155.6H1998.6"/></g>
<g fill="#000"><circle cx="1734.6" cy="1070.2" r="6.6"/><circle cx="1734.6" cy="1086.1" r="6.6"/><circle cx="1734.6" cy="1093.9" r="6.6"/><circle cx="1785.5" cy="1097.1" r="6.6"/><circle cx="1785.5" cy="1111" r="6.6"/><circle cx="1785.5" cy="1144.3" r="6.6"/><circle cx="1836.5" cy="1007.1" r="6.6"/><circle cx="1836.5" cy="1015.7" r="6.6"/><circle cx="1836.5" cy="1080" r="6.6"/><circle cx="1887.2" cy="1120.8" r="6.6"/><circle cx="1887.2" cy="1130.4" r="6.6"/><circle cx="1887.2" cy="1148" r="6.6"/><circle cx="1938.1" cy="1109" r="6.6"/><circle cx="1938.1" cy="1142" r="6.6"/><circle cx="1988.8" cy="1126" r="6.6"/><circle cx="1988.8" cy="1136.8" r="6.6"/><circle cx="1988.8" cy="1160.8" r="6.6"/></g>
<g stroke="#000" stroke-width="5" fill="none"><path d="M1731.4 1033.4L1732 1021.6Q1732.1 1018.2 1734.7 1018.2H1780.9Q1783.5 1018.2 1783.6 1021.6L1784.2 1033.4"/><path d="M1830.4 968.3L1831 957Q1831.1 953.6 1833.7 953.6H1880.2Q1882.8 953.6 1882.9 957L1883.5 968.3"/><path d="M1935.5 1072.8L1936.1 1061.2Q1936.2 1057.8 1938.8 1057.8H1985.3Q1987.9 1057.8 1988 1061.2L1988.6 1072.8"/></g>
<g font-size="30.8" text-anchor="middle"><text transform="translate(1757.5 1002.5) scale(1 1.03)">N.S.</text><text transform="translate(1857.3 943.4) scale(1 1.03)">*</text><text transform="translate(1961.9 1041.6) scale(1 1.03)">N.S.</text></g><g font-size="30.4" text-anchor="middle"><text transform="translate(1734.8 1269.3) scale(1 1.03)">PC</text><text transform="translate(1785.4 1269.3) scale(1 1.03)">PP</text><text transform="translate(1760.1 1325.1) scale(1 1.03)">0h</text><text transform="translate(1836.7 1269.3) scale(1 1.03)">PC</text><text transform="translate(1887 1269.3) scale(1 1.03)">PP</text><text transform="translate(1861.8 1325.1) scale(1 1.03)">8h</text><text transform="translate(1938.2 1269.3) scale(1 1.03)">PC</text><text transform="translate(1988.7 1269.3) scale(1 1.03)">PP</text><text transform="translate(1963.4 1325.1) scale(1 1.03)">24h</text></g>
<g font-size="30.8" text-anchor="end"><text transform="translate(1683.1 972) scale(1 1.03)">140</text><text transform="translate(1683.1 1009.4) scale(1 1.03)">120</text><text transform="translate(1683.1 1046.9) scale(1 1.03)">100</text><text transform="translate(1683.1 1084.3) scale(1 1.03)">80</text><text transform="translate(1683.1 1121.7) scale(1 1.03)">60</text><text transform="translate(1683.1 1159.1) scale(1 1.03)">40</text><text transform="translate(1683.1 1196.6) scale(1 1.03)">20</text><text transform="translate(1683.1 1234) scale(1 1.03)">0</text></g>
<g font-size="31" text-anchor="middle"><text transform="translate(1613.6 1092) rotate(-90) scale(1 1.03)">Counts</text></g>
<g font-size="44.4" font-style="italic" text-anchor="middle"><text transform="translate(1797.4 897) scale(1 1.03)">Mcm6</text></g>
<g shape-rendering="crispEdges"><rect x="114.1" y="1459.6" width="47" height="58.8" fill="#ff0000"/><rect x="160.6" y="1459.6" width="47" height="58.8" fill="#ff0000"/><rect x="207.1" y="1459.6" width="47" height="58.8" fill="#ff0000"/><rect x="253.6" y="1459.6" width="47" height="58.8" fill="#ffbaba"/><rect x="300.1" y="1459.6" width="47" height="58.8" fill="#ff9696"/><rect x="346.6" y="1459.6" width="47" height="58.8" fill="#ff5454"/><rect x="393.1" y="1459.6" width="47" height="58.8" fill="#4f4fff"/><rect x="439.6" y="1459.6" width="47" height="58.8" fill="#e3e3ff"/><rect x="486.1" y="1459.6" width="47" height="58.8" fill="#ffb5b5"/><rect x="532.6" y="1459.6" width="47" height="58.8" fill="#ffbaba"/><rect x="579.1" y="1459.6" width="47" height="58.8" fill="#ff8c8c"/><rect x="625.6" y="1459.6" width="47" height="58.8" fill="#ff4040"/><rect x="672.1" y="1459.6" width="47" height="58.8" fill="#ff1414"/><rect x="718.6" y="1459.6" width="47" height="58.8" fill="#ff1414"/><rect x="114.1" y="1517.9" width="47" height="58.8" fill="#ff0000"/><rect x="160.6" y="1517.9" width="47" height="58.8" fill="#ff2e2e"/><rect x="207.1" y="1517.9" width="47" height="58.8" fill="#ff0000"/><rect x="253.6" y="1517.9" width="47" height="58.8" fill="#ff8282"/><rect x="300.1" y="1517.9" width="47" height="58.8" fill="#ff6363"/><rect x="346.6" y="1517.9" width="47" height="58.8" fill="#b0b0ff"/><rect x="393.1" y="1517.9" width="47" height="58.8" fill="#6e6eff"/><rect x="439.6" y="1517.9" width="47" height="58.8" fill="#0a0aff"/><rect x="486.1" y="1517.9" width="47" height="58.8" fill="#4f4fff"/><rect x="532.6" y="1517.9" width="47" height="58.8" fill="#e0e0ff"/><rect x="579.1" y="1517.9" width="47" height="58.8" fill="#e0e0ff"/><rect x="625.6" y="1517.9" width="47" height="58.8" fill="#d4d4ff"/><rect x="672.1" y="1517.9" width="47" height="58.8" fill="#9696ff"/><rect x="718.6" y="1517.9" width="47" height="58.8" fill="#5e5eff"/><rect x="114.1" y="1576.2" width="47" height="58.8" fill="#babaff"/><rect x="160.6" y="1576.2" width="47" height="58.8" fill="#9696ff"/><rect x="207.1" y="1576.2" width="47" height="58.8" fill="#dedeff"/><rect x="253.6" y="1576.2" width="47" height="58.8" fill="#ffcccc"/><rect x="300.1" y="1576.2" width="47" height="58.8" fill="#ededff"/><rect x="346.6" y="1576.2" width="47" height="58.8" fill="#ffd6d6"/><rect x="393.1" y="1576.2" width="47" height="58.8" fill="#7d7dff"/><rect x="439.6" y="1576.2" width="47" height="58.8" fill="#0000ff"/><rect x="486.1" y="1576.2" width="47" height="58.8" fill="#0000ff"/><rect x="532.6" y="1576.2" width="47" height="58.8" fill="#ff2929"/><rect x="579.1" y="1576.2" width="47" height="58.8" fill="#ff4545"/><rect x="625.6" y="1576.2" width="47" height="58.8" fill="#5959ff"/><rect x="672.1" y="1576.2" width="47" height="58.8" fill="#bfbfff"/><rect x="718.6" y="1576.2" width="47" height="58.8" fill="#ffc2c2"/></g><path fill="none" stroke="#000" stroke-width="3.5" d="M114.1 1457.9V1636.2M160.6 1457.9V1636.2M207.1 1457.9V1636.2M253.6 1457.9V1636.2M300.1 1457.9V1636.2M346.6 1457.9V1636.2M393.1 1457.9V1636.2M439.6 1457.9V1636.2M486.1 1457.9V1636.2M532.6 1457.9V1636.2M579.1 1457.9V1636.2M625.6 1457.9V1636.2M672.1 1457.9V1636.2M718.6 1457.9V1636.2M765.1 1457.9V1636.2"/><path fill="none" stroke="#000" stroke-width="3.3" d="M112.3 1459.6H766.9M112.3 1517.9H766.9M112.3 1576.2H766.9M112.3 1634.5H766.9"/>
<g shape-rendering="crispEdges"><rect x="114.1" y="1657" width="47" height="59" fill="#a6a6ff"/><rect x="160.6" y="1657" width="47" height="59" fill="#4a4aff"/><rect x="207.1" y="1657" width="47" height="59" fill="#2929ff"/><rect x="253.6" y="1657" width="47" height="59" fill="#3838ff"/><rect x="300.1" y="1657" width="47" height="59" fill="#ffd9d9"/><rect x="346.6" y="1657" width="47" height="59" fill="#fafaff"/><rect x="393.1" y="1657" width="47" height="59" fill="#ff0000"/><rect x="439.6" y="1657" width="47" height="59" fill="#ff0000"/><rect x="486.1" y="1657" width="47" height="59" fill="#ff0000"/><rect x="532.6" y="1657" width="47" height="59" fill="#ffa1a1"/><rect x="579.1" y="1657" width="47" height="59" fill="#ffdede"/><rect x="625.6" y="1657" width="47" height="59" fill="#ff3333"/><rect x="672.1" y="1657" width="47" height="59" fill="#ff0505"/><rect x="718.6" y="1657" width="47" height="59" fill="#ff0000"/><rect x="114.1" y="1715.5" width="47" height="59" fill="#4a4aff"/><rect x="160.6" y="1715.5" width="47" height="59" fill="#4a4aff"/><rect x="207.1" y="1715.5" width="47" height="59" fill="#2424ff"/><rect x="253.6" y="1715.5" width="47" height="59" fill="#ff9696"/><rect x="300.1" y="1715.5" width="47" height="59" fill="#fafaff"/><rect x="346.6" y="1715.5" width="47" height="59" fill="#ffbaba"/><rect x="393.1" y="1715.5" width="47" height="59" fill="#ababff"/><rect x="439.6" y="1715.5" width="47" height="59" fill="#ffbaba"/><rect x="486.1" y="1715.5" width="47" height="59" fill="#ffa1a1"/><rect x="532.6" y="1715.5" width="47" height="59" fill="#0000ff"/><rect x="579.1" y="1715.5" width="47" height="59" fill="#5959ff"/><rect x="625.6" y="1715.5" width="47" height="59" fill="#b5b5ff"/><rect x="672.1" y="1715.5" width="47" height="59" fill="#5959ff"/><rect x="718.6" y="1715.5" width="47" height="59" fill="#0000ff"/><rect x="114.1" y="1774" width="47" height="59" fill="#0000ff"/><rect x="160.6" y="1774" width="47" height="59" fill="#4a4aff"/><rect x="207.1" y="1774" width="47" height="59" fill="#2929ff"/><rect x="253.6" y="1774" width="47" height="59" fill="#6e6eff"/><rect x="300.1" y="1774" width="47" height="59" fill="#0000ff"/><rect x="346.6" y="1774" width="47" height="59" fill="#4040ff"/><rect x="393.1" y="1774" width="47" height="59" fill="#ffffff"/><rect x="439.6" y="1774" width="47" height="59" fill="#ffffff"/><rect x="486.1" y="1774" width="47" height="59" fill="#fff2f2"/><rect x="532.6" y="1774" width="47" height="59" fill="#8c8cff"/><rect x="579.1" y="1774" width="47" height="59" fill="#7878ff"/><rect x="625.6" y="1774" width="47" height="59" fill="#9696ff"/><rect x="672.1" y="1774" width="47" height="59" fill="#4040ff"/><rect x="718.6" y="1774" width="47" height="59" fill="#5e5eff"/></g><path fill="none" stroke="#000" stroke-width="3.5" d="M114.1 1655.3V1834.2M160.6 1655.3V1834.2M207.1 1655.3V1834.2M253.6 1655.3V1834.2M300.1 1655.3V1834.2M346.6 1655.3V1834.2M393.1 1655.3V1834.2M439.6 1655.3V1834.2M486.1 1655.3V1834.2M532.6 1655.3V1834.2M579.1 1655.3V1834.2M625.6 1655.3V1834.2M672.1 1655.3V1834.2M718.6 1655.3V1834.2M765.1 1655.3V1834.2"/><path fill="none" stroke="#000" stroke-width="3.3" d="M112.3 1657H766.9M112.3 1715.5H766.9M112.3 1774H766.9M112.3 1832.5H766.9"/>
<g fill="none" stroke="#000"><path stroke-width="3.4" d="M183.8 1459V1445.6M230.3 1459V1445.6M137.3 1459V1440.7M207.1 1447.1V1440.7M323.4 1459V1424.5M369.9 1459V1424.5M276.9 1459V1418.7M346.6 1426V1418.7M172.2 1442.2V1395M311.7 1420.2V1395M462.9 1459V1442.4M509.4 1459V1442.4M416.4 1459V1416.7M486.1 1443.9V1416.7M555.9 1459V1443.3M602.4 1459V1443.3M695.4 1459V1437.8M741.9 1459V1437.8M648.9 1459V1418.7M718.6 1439.3V1418.7M579.1 1444.8V1402.2M683.7 1420.2V1402.2M451.2 1418.2V1376.7M631.4 1403.7V1376.7M242 1396.5V1352.1M541.3 1378.2V1352.1"/><path stroke-width="2.9" d="M182 1447.1H232.2M135.5 1442.2H208.9M321.5 1426H371.7M275 1420.2H348.5M170.4 1396.5H313.6M461 1443.9H511.2M414.5 1418.2H488M554 1444.8H604.2M693.5 1439.3H743.7M647 1420.2H720.5M577.2 1403.7H685.6M449.4 1378.2H633.3M240.1 1353.6H543.2"/></g>
<g class="gl" font-size="33.5" text-anchor="end"><text transform="translate(149.9 1850) rotate(-90) scale(1 1.02)">Wnt5a</text><text transform="translate(196.4 1850) rotate(-90) scale(1 1.02)">Mycn</text><text transform="translate(242.9 1850) rotate(-90) scale(1 1.02)">Lgr5</text><text transform="translate(289.4 1850) rotate(-90) scale(1 1.02)">Wnt2b</text><text transform="translate(335.9 1850) rotate(-90) scale(1 1.02)">Sufu</text><text transform="translate(382.4 1850) rotate(-90) scale(1 1.02)">Cflar</text><text transform="translate(428.9 1850) rotate(-90) scale(1 1.02)">Bmp4</text><text transform="translate(475.4 1850) rotate(-90) scale(1 1.02)">Hhipl1</text><text transform="translate(522 1850) rotate(-90) scale(1 1.02)">Cd44</text><text transform="translate(568.5 1850) rotate(-90) scale(1 1.02)">Bmi1</text><text transform="translate(615 1850) rotate(-90) scale(1 1.02)">Myc</text><text transform="translate(661.5 1850) rotate(-90) scale(1 1.02)">Ccnd1</text><text transform="translate(708 1850) rotate(-90) scale(1 1.02)">Ptch1</text><text transform="translate(754.5 1850) rotate(-90) scale(1 1.02)">Akt1</text></g>
<g font-size="43.3"><text transform="translate(804.3 1507.3) scale(1 1.04)">0h</text><text transform="translate(804.3 1563.5) scale(1 1.04)">8h</text><text transform="translate(804.3 1619.7) scale(1 1.04)">24h</text><text transform="translate(893.5 1563.5) scale(1 1.04)">PC</text></g>
<g font-size="43.3"><text transform="translate(804.3 1704.1) scale(1 1.04)">0h</text><text transform="translate(804.3 1760.3) scale(1 1.04)">8h</text><text transform="translate(804.3 1816.7) scale(1 1.04)">24h</text><text transform="translate(895 1760.3) scale(1 1.04)">PP</text></g>
<g fill="none" stroke="#000" stroke-width="4.3" stroke-linejoin="round"><path d="M893.4 1484.2 Q918 1484.2 924.2 1485.8 V1505"/><path d="M924.2 1590.4 V1609.1 Q918 1610.7 893.4 1610.7"/></g>
<g fill="none" stroke="#000" stroke-width="4.3" stroke-linejoin="round"><path d="M893.4 1681.5 Q918 1681.5 924.2 1683.1 V1701.8"/><path d="M924.2 1787.8 V1805.6 Q918 1807.2 893.4 1807.2"/></g>
<defs><linearGradient id="cbC" x1="0" x2="1" y1="0" y2="0"><stop offset="0" stop-color="#0a2cff"/><stop offset="0.12" stop-color="#3a55ff"/><stop offset="0.5" stop-color="#ffffff"/><stop offset="0.88" stop-color="#ff5a3c"/><stop offset="1" stop-color="#ff2a00"/></linearGradient></defs>
<rect x="568.8" y="2051.4" width="370.3" height="30.5" fill="url(#cbC)" stroke="#000" stroke-width="2.2"/>
<g stroke="#000" stroke-width="2.2"><line x1="568.8" x2="568.8" y1="2082" y2="2099.5"/><line x1="661.4" x2="661.4" y1="2082" y2="2099.5"/><line x1="754" x2="754" y1="2082" y2="2099.5"/><line x1="846.5" x2="846.5" y1="2082" y2="2099.5"/><line x1="939.1" x2="939.1" y1="2082" y2="2099.5"/></g>
<g font-size="31" text-anchor="middle"><text x="753.4" y="2036.9">z-score</text><text x="568.8" y="2129.5">-1</text><text x="661.4" y="2129.5">-0.5</text><text x="754" y="2129.5">0</text><text x="846.5" y="2129.5">0.5</text><text x="939.1" y="2129.5">-1</text></g>
<rect x="261.6" y="2365" width="42.4" height="187.1" fill="#4a90e2"/><rect x="312" y="2374.7" width="42.7" height="177.4" fill="#ff7599"/><rect x="363.1" y="2359.4" width="42.3" height="192.7" fill="#4a90e2"/><rect x="413.8" y="2380.3" width="42.4" height="171.8" fill="#ff7599"/><rect x="464.9" y="2382" width="42.3" height="170.1" fill="#4a90e2"/><rect x="515.6" y="2417.1" width="42.4" height="135" fill="#ff7599"/>
<g stroke="#000" stroke-width="3.7" fill="none"><path d="M257.2 2288.2V2670"/><path d="M358.9 2552.1V2670"/><path d="M460.8 2552.1V2670"/><path d="M562.2 2552.1V2670"/><path d="M247.9 2552.1H564.1"/><path d="M247.9 2290.1H257.2"/><path d="M247.9 2327.5H257.2"/><path d="M247.9 2365H257.2"/><path d="M247.9 2402.4H257.2"/><path d="M247.9 2439.8H257.2"/><path d="M247.9 2477.2H257.2"/><path d="M247.9 2514.7H257.2"/></g>
<g stroke="#606060" stroke-width="3.8" fill="none"><path d="M282.8 2343.1V2386.2M273 2343.1H292.6M273 2386.2H292.6"/><path d="M333.5 2358.4V2391M323.7 2358.4H343.3M323.7 2391H343.3"/><path d="M384.3 2330.9V2387.9M374.5 2330.9H394.1M374.5 2387.9H394.1"/><path d="M435 2351.4V2409.1M425.2 2351.4H444.8M425.2 2409.1H444.8"/><path d="M486 2335.5V2428.6M476.2 2335.5H495.8M476.2 2428.6H495.8"/><path d="M536.8 2395.2V2438.3M527 2395.2H546.6M527 2438.3H546.6"/></g>
<g fill="#000"><circle cx="282.8" cy="2336.1" r="6.6"/><circle cx="282.8" cy="2373" r="6.6"/><circle cx="282.8" cy="2386.2" r="6.6"/><circle cx="333.5" cy="2359.8" r="6.6"/><circle cx="333.5" cy="2367.4" r="6.6"/><circle cx="333.5" cy="2397.3" r="6.6"/><circle cx="384.3" cy="2322.6" r="6.6"/><circle cx="384.3" cy="2363.2" r="6.6"/><circle cx="384.3" cy="2393.5" r="6.6"/><circle cx="435" cy="2351.8" r="6.6"/><circle cx="435" cy="2369.2" r="6.6"/><circle cx="435" cy="2420.2" r="6.6"/><circle cx="486" cy="2319.1" r="6.6"/><circle cx="486" cy="2396.9" r="6.6"/><circle cx="486" cy="2430.3" r="6.6"/><circle cx="536.8" cy="2387.6" r="6.6"/><circle cx="536.8" cy="2426.5" r="6.6"/><circle cx="536.8" cy="2437.6" r="6.6"/></g>
<g stroke="#000" stroke-width="5" fill="none"><path d="M279.6 2300L280.2 2288.1Q280.3 2284.7 282.9 2284.7H328.4Q331 2284.7 331.1 2288.1L331.7 2300"/><path d="M380.3 2296.1L380.9 2284.3Q381 2280.9 383.6 2280.9H429.1Q431.7 2280.9 431.8 2284.3L432.4 2296.1"/><path d="M483.5 2281.9L484.1 2270.1Q484.2 2266.7 486.8 2266.7H533.4Q536 2266.7 536.1 2270.1L536.7 2281.9"/></g>
<g font-size="30.8" text-anchor="middle"><text transform="translate(305.4 2269.2) scale(1 1.03)">N.S.</text><text transform="translate(406.1 2265) scale(1 1.03)">N.S.</text><text transform="translate(509.7 2251.8) scale(1 1.03)">N.S.</text></g><g font-size="30.4" text-anchor="middle"><text transform="translate(282.8 2598.6) scale(1 1.03)">PC</text><text transform="translate(333.3 2598.6) scale(1 1.03)">PP</text><text transform="translate(308 2654.4) scale(1 1.03)">0h</text><text transform="translate(384.6 2598.6) scale(1 1.03)">PC</text><text transform="translate(435.1 2598.6) scale(1 1.03)">PP</text><text transform="translate(409.9 2654.4) scale(1 1.03)">8h</text><text transform="translate(486.4 2598.6) scale(1 1.03)">PC</text><text transform="translate(536.7 2598.6) scale(1 1.03)">PP</text><text transform="translate(511.5 2654.4) scale(1 1.03)">24h</text></g>
<g font-size="30.8" text-anchor="end"><text transform="translate(231.2 2301.1) scale(1 1.03)">140</text><text transform="translate(231.2 2338.5) scale(1 1.03)">120</text><text transform="translate(231.2 2376) scale(1 1.03)">100</text><text transform="translate(231.2 2413.4) scale(1 1.03)">80</text><text transform="translate(231.2 2450.8) scale(1 1.03)">60</text><text transform="translate(231.2 2488.2) scale(1 1.03)">40</text><text transform="translate(231.2 2525.7) scale(1 1.03)">20</text><text transform="translate(231.2 2563.1) scale(1 1.03)">0</text></g>
<g font-size="31" text-anchor="middle"><text transform="translate(161.6 2421.1) rotate(-90) scale(1 1.03)">Counts</text></g>
<g font-size="44.4" font-style="italic" text-anchor="middle"><text transform="translate(345.7 2226) scale(1 1.03)">Sufu</text></g>
<rect x="754" y="2412" width="44.9" height="140.1" fill="#4a90e2"/><rect x="807.9" y="2473.1" width="44.6" height="79" fill="#ff7599"/><rect x="861.4" y="2529.9" width="44.9" height="22.2" fill="#4a90e2"/><rect x="915" y="2512.8" width="44.9" height="39.3" fill="#ff7599"/><rect x="968.9" y="2518.3" width="44.5" height="33.8" fill="#4a90e2"/><rect x="1022.4" y="2509.3" width="44.9" height="42.8" fill="#ff7599"/>
<g stroke="#000" stroke-width="3.7" fill="none"><path d="M749.3 2288.2V2670"/><path d="M857.1 2552.1V2670"/><path d="M964.2 2552.1V2670"/><path d="M1071.9 2552.1V2670"/><path d="M740 2552.1H1073.8"/><path d="M740 2290.1H749.3"/><path d="M740 2333.8H749.3"/><path d="M740 2377.4H749.3"/><path d="M740 2421.1H749.3"/><path d="M740 2464.8H749.3"/><path d="M740 2508.4H749.3"/></g>
<g stroke="#606060" stroke-width="3.8" fill="none"><path d="M776.6 2342.6V2481.8M766.8 2342.6H786.4M766.8 2481.8H786.4"/><path d="M830.2 2466.8V2479.8M820.4 2466.8H840M820.4 2479.8H840"/><path d="M883.7 2520.3V2539.1M873.9 2520.3H893.5M873.9 2539.1H893.5"/><path d="M937.6 2483.5V2541.2M927.8 2483.5H947.4M927.8 2541.2H947.4"/><path d="M991.1 2501.5V2535.4M981.3 2501.5H1000.9M981.3 2535.4H1000.9"/><path d="M1045 2500V2518.9M1035.2 2500H1054.8M1035.2 2518.9H1054.8"/></g>
<g fill="#000"><circle cx="776.6" cy="2316.2" r="6.6"/><circle cx="776.6" cy="2443" r="6.6"/><circle cx="776.6" cy="2477.8" r="6.6"/><circle cx="830.2" cy="2464.7" r="6.6"/><circle cx="830.2" cy="2475.4" r="6.6"/><circle cx="830.2" cy="2478.3" r="6.6"/><circle cx="883.7" cy="2520.9" r="6.6"/><circle cx="883.7" cy="2524.7" r="6.6"/><circle cx="883.7" cy="2543.5" r="6.6"/><circle cx="937.6" cy="2477.5" r="6.6"/><circle cx="937.6" cy="2512.8" r="6.6"/><circle cx="937.6" cy="2547.8" r="6.6"/><circle cx="991.1" cy="2495.7" r="6.6"/><circle cx="991.1" cy="2530.4" r="6.6"/><circle cx="1045" cy="2499.5" r="6.6"/><circle cx="1045" cy="2508.2" r="6.6"/><circle cx="1045" cy="2521.8" r="6.6"/></g>
<g stroke="#000" stroke-width="5" fill="none"><path d="M773.4 2295.4L774 2283.2Q774.1 2279.8 776.7 2279.8H823.2Q825.8 2279.8 825.9 2283.2L826.5 2295.4"/><path d="M882.9 2434.3L883.5 2422.5Q883.6 2419.1 886.2 2419.1H932.3Q934.9 2419.1 935 2422.5L935.6 2434.3"/><path d="M986.5 2456.3L987.1 2444.8Q987.2 2441.4 989.8 2441.4H1036Q1038.6 2441.4 1038.7 2444.8L1039.3 2456.3"/></g>
<g font-size="30.8" text-anchor="middle"><text transform="translate(799.8 2264.5) scale(1 1.03)">N.S.</text><text transform="translate(908.9 2403.8) scale(1 1.03)">N.S.</text><text transform="translate(1012.6 2425.2) scale(1 1.03)">N.S.</text></g><g font-size="30.4" text-anchor="middle"><text transform="translate(776.5 2598.6) scale(1 1.03)">PC</text><text transform="translate(830 2598.6) scale(1 1.03)">PP</text><text transform="translate(803.2 2654.4) scale(1 1.03)">0h</text><text transform="translate(884.1 2598.6) scale(1 1.03)">PC</text><text transform="translate(937.3 2598.6) scale(1 1.03)">PP</text><text transform="translate(910.7 2654.4) scale(1 1.03)">8h</text><text transform="translate(991.4 2598.6) scale(1 1.03)">PC</text><text transform="translate(1044.8 2598.6) scale(1 1.03)">PP</text><text transform="translate(1018.1 2654.4) scale(1 1.03)">24h</text></g>
<g font-size="30.8" text-anchor="end"><text transform="translate(723.3 2301.1) scale(1 1.03)">60</text><text transform="translate(723.3 2344.8) scale(1 1.03)">50</text><text transform="translate(723.3 2388.4) scale(1 1.03)">40</text><text transform="translate(723.3 2432.1) scale(1 1.03)">30</text><text transform="translate(723.3 2475.8) scale(1 1.03)">20</text><text transform="translate(723.3 2519.4) scale(1 1.03)">10</text><text transform="translate(723.3 2563.1) scale(1 1.03)">0</text></g>
<g font-size="31" text-anchor="middle"><text transform="translate(670.1 2421.1) rotate(-90) scale(1 1.03)">Counts</text></g>
<g font-size="44.4" font-style="italic" text-anchor="middle"><text transform="translate(854.2 2225.6) scale(1 1.03)">Shh</text></g>
<rect x="1235.2" y="2385.1" width="42" height="167" fill="#4a90e2"/><rect x="1285.8" y="2373.2" width="42.3" height="178.9" fill="#ff7599"/><rect x="1336.5" y="2452" width="42.6" height="100.1" fill="#4a90e2"/><rect x="1387.5" y="2465" width="42.2" height="87.1" fill="#ff7599"/><rect x="1438.1" y="2444.5" width="42.6" height="107.6" fill="#4a90e2"/><rect x="1489.1" y="2471.7" width="42.3" height="80.4" fill="#ff7599"/>
<g stroke="#000" stroke-width="3.7" fill="none"><path d="M1230.6 2288.2V2670"/><path d="M1332.5 2552.1V2670"/><path d="M1433.8 2552.1V2670"/><path d="M1535.6 2552.1V2670"/><path d="M1221.3 2552.1H1537.4"/><path d="M1221.3 2290.1H1230.6"/><path d="M1221.3 2327.5H1230.6"/><path d="M1221.3 2365H1230.6"/><path d="M1221.3 2402.4H1230.6"/><path d="M1221.3 2439.8H1230.6"/><path d="M1221.3 2477.2H1230.6"/><path d="M1221.3 2514.7H1230.6"/></g>
<g stroke="#606060" stroke-width="3.8" fill="none"><path d="M1256 2323.4V2446.5M1246.2 2323.4H1265.8M1246.2 2446.5H1265.8"/><path d="M1307 2336.2V2409.7M1297.2 2336.2H1316.8M1297.2 2409.7H1316.8"/><path d="M1357.9 2450.8V2453.1M1348.1 2450.8H1367.7M1348.1 2453.1H1367.7"/><path d="M1408.6 2440.7V2489M1398.8 2440.7H1418.4M1398.8 2489H1418.4"/><path d="M1459.6 2407.4V2481.8M1449.8 2407.4H1469.4M1449.8 2481.8H1469.4"/><path d="M1510.2 2445V2497.7M1500.4 2445H1520M1500.4 2497.7H1520"/></g>
<g fill="#000"><circle cx="1256" cy="2330.7" r="6.6"/><circle cx="1256" cy="2354.1" r="6.6"/><circle cx="1256" cy="2471.7" r="6.6"/><circle cx="1307" cy="2324.6" r="6.6"/><circle cx="1307" cy="2381.9" r="6.6"/><circle cx="1307" cy="2414.1" r="6.6"/><circle cx="1357.9" cy="2452" r="6.6"/><circle cx="1408.6" cy="2434.9" r="6.6"/><circle cx="1408.6" cy="2464.7" r="6.6"/><circle cx="1408.6" cy="2495.7" r="6.6"/><circle cx="1459.6" cy="2392.9" r="6.6"/><circle cx="1459.6" cy="2464.7" r="6.6"/><circle cx="1459.6" cy="2477.5" r="6.6"/><circle cx="1510.2" cy="2436.9" r="6.6"/><circle cx="1510.2" cy="2478.3" r="6.6"/><circle cx="1510.2" cy="2500" r="6.6"/></g>
<g stroke="#000" stroke-width="5" fill="none"><path d="M1250.8 2301.5L1251.4 2289.9Q1251.5 2286.5 1254.1 2286.5H1299.7Q1302.3 2286.5 1302.4 2289.9L1303 2301.5"/><path d="M1351.3 2397.9L1351.9 2386.3Q1352 2382.9 1354.6 2382.9H1400.7Q1403.3 2382.9 1403.4 2386.3L1404 2397.9"/><path d="M1454.7 2353.6L1455.3 2342Q1455.4 2338.6 1458 2338.6H1503.8Q1506.4 2338.6 1506.5 2342L1507.1 2353.6"/></g>
<g font-size="30.8" text-anchor="middle"><text transform="translate(1276.6 2270.6) scale(1 1.03)">N.S.</text><text transform="translate(1377.3 2366.7) scale(1 1.03)">N.S.</text><text transform="translate(1480.7 2322.4) scale(1 1.03)">N.S.</text></g><g font-size="30.4" text-anchor="middle"><text transform="translate(1256.3 2598.6) scale(1 1.03)">PC</text><text transform="translate(1306.8 2598.6) scale(1 1.03)">PP</text><text transform="translate(1281.5 2654.4) scale(1 1.03)">0h</text><text transform="translate(1358 2598.6) scale(1 1.03)">PC</text><text transform="translate(1408.3 2598.6) scale(1 1.03)">PP</text><text transform="translate(1383.2 2654.4) scale(1 1.03)">8h</text><text transform="translate(1459.5 2598.6) scale(1 1.03)">PC</text><text transform="translate(1510 2598.6) scale(1 1.03)">PP</text><text transform="translate(1484.7 2654.4) scale(1 1.03)">24h</text></g>
<g font-size="30.8" text-anchor="end"><text transform="translate(1204.6 2301.1) scale(1 1.03)">350</text><text transform="translate(1204.6 2338.5) scale(1 1.03)">300</text><text transform="translate(1204.6 2376) scale(1 1.03)">250</text><text transform="translate(1204.6 2413.4) scale(1 1.03)">200</text><text transform="translate(1204.6 2450.8) scale(1 1.03)">150</text><text transform="translate(1204.6 2488.2) scale(1 1.03)">100</text><text transform="translate(1204.6 2525.7) scale(1 1.03)">50</text><text transform="translate(1204.6 2563.1) scale(1 1.03)">0</text></g>
<g font-size="31" text-anchor="middle"><text transform="translate(1134.1 2421.1) rotate(-90) scale(1 1.03)">Counts</text></g>
<g font-size="44.4" font-style="italic" text-anchor="middle"><text transform="translate(1316.8 2225.6) scale(1 1.03)">Ptch1</text></g>
</svg>
</body></html>
